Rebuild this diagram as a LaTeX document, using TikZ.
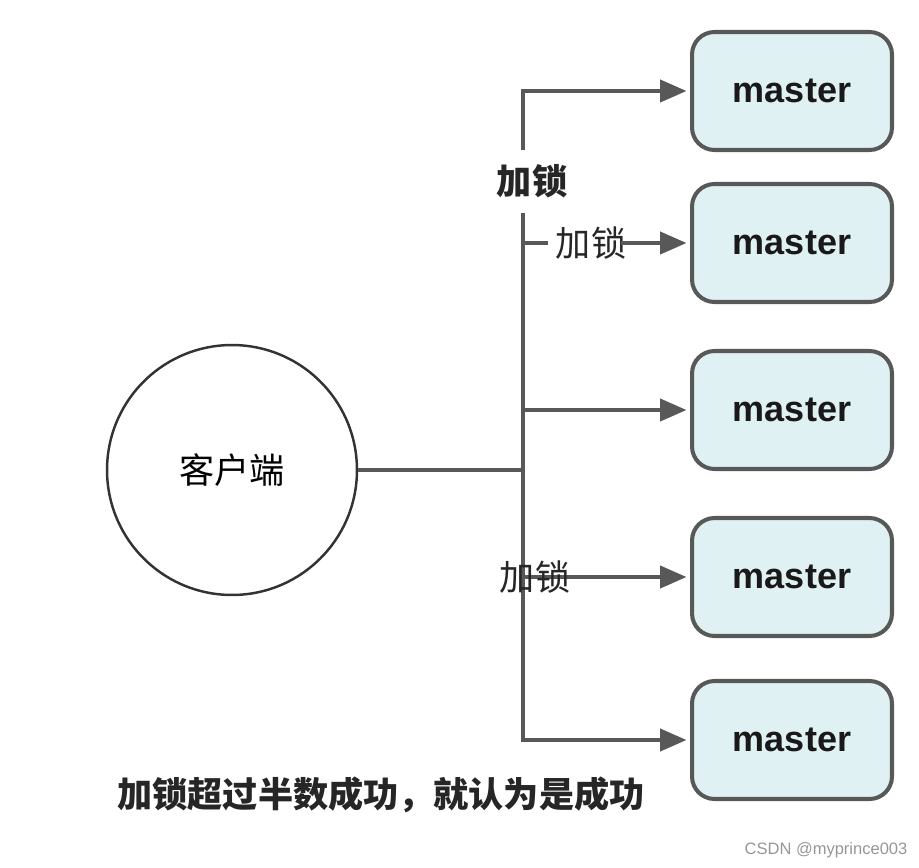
\documentclass[tikz,border=0pt]{standalone}
\usepackage{fontspec}
\setmainfont{Liberation Sans}
\newfontfamily\cjk{Noto Sans CJK SC}
\usepackage{tikz}
\usetikzlibrary{arrows.meta,calc}
\definecolor{linegray}{RGB}{88,88,88}
\definecolor{boxcolor}{RGB}{224,241,243}
\definecolor{markgray}{RGB}{150,150,150}
\tikzstyle{masterblock} = [draw=linegray, fill=boxcolor, rectangle, rounded corners=0.45cm, line width=2.3pt, minimum width=4cm, minimum height=2.36cm, font=\fontsize{20.5}{24}\selectfont\bfseries, text=black!90]
\tikzstyle{clientnode} = [draw=black!80, fill=white, circle, line width=1.4pt, minimum size=5cm, font=\cjk\fontsize{20}{24}\selectfont]
\tikzstyle{connector} = [draw=linegray, line width=2.3pt]
\tikzstyle{arrowline} = [connector, -{Triangle[length=15pt,width=12.5pt]}, shorten >=2pt]
\tikzstyle{locklabel} = [inner sep=0pt, font=\cjk\fontsize{20}{24}\selectfont, text=black!85]

\begin{document}
\begin{tikzpicture}[x=0.02cm, y=-0.02cm]
\useasboundingbox (0,0) rectangle (919,868);

%% Klient %%
\node [clientnode] (Client) at (232,470) {客户端};

%% Masters %%
\node [masterblock] (Master1) at (792,91) {master};
\node [masterblock] (Master2) at (792,243) {master};
\node [masterblock] (Master3) at (792,410) {master};
\node [masterblock] (Master4) at (792,577) {master};
\node [masterblock] (Master5) at (792,740) {master};

%% Labels %%
\node [locklabel, font=\cjk\fontsize{20}{24}\selectfont\bfseries] (LockTop) at (532,181) {加锁};
\node [locklabel] (LockSecond) at (591,243) {加锁};

\node [locklabel, font=\cjk\fontsize{20}{24}\selectfont\bfseries] (Result) at (381,795) {加锁超过半数成功，就认为是成功};
\node [inner sep=0pt, text=markgray, font=\fontsize{9.4}{12}\selectfont] (Mark) at (826,850) {CSDN @myprince003};

%% Trunk %%
\coordinate (TrunkTop) at (523,150);
\coordinate (TrunkMid) at (523,213);
\coordinate (Junction) at (523,470);

%% Forbindelse %%
\draw[connector] (Client) -- (Junction);
\draw[arrowline] (TrunkTop) |- (Master1);
\draw[arrowline] (TrunkMid) |- (Master5);
\draw[connector] (Master2 -| TrunkMid) -- ($(LockSecond.west)+(-8,0)$);
\draw[arrowline] ($(LockSecond.east)+(-5,0)$) -- (Master2);
\draw[arrowline] (Master3 -| TrunkMid) -- (Master3);
\draw[arrowline] (Master4 -| TrunkMid) -- (Master4);

%% over the line %%
\node [locklabel] (LockFourth) at (535,577) {加锁};
\end{tikzpicture}
\end{document}
